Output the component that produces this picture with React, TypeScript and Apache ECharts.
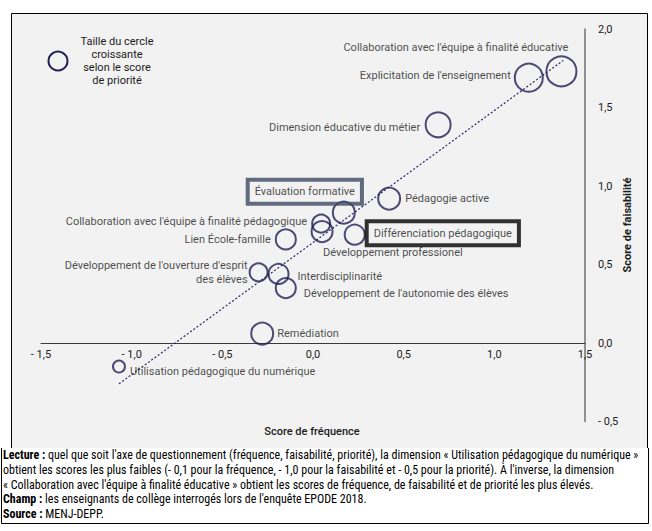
import React, { useEffect, useRef } from "react";
import * as echarts from "echarts";

// ---- Data ----
const dimensions = [
  "Collaboration avec l'équipe à finalité éducative",
  "Explicitation de l'enseignement",
  "Dimension éducative du métier",
  "Pédagogie active",
  "Évaluation formative",
  "Collaboration avec l'équipe à finalité pédagogique",
  "Développement professionel",
  "Différenciation pédagogique",
  "Lien École-famille",
  "Développement de l'ouverture d'esprit\ndes élèves",
  "Interdisciplinarité",
  "Développement de l'autonomie des élèves",
  "Remédiation",
  "Utilisation pédagogique du numérique",
];
const frequence = [1.37, 1.19, 0.69, 0.42, 0.17, 0.045, 0.05, 0.23, -0.15, -0.3, -0.19, -0.15, -0.28, -1.07];
const faisabilite = [1.73, 1.69, 1.39, 0.92, 0.83, 0.76, 0.71, 0.69, 0.66, 0.45, 0.44, 0.35, 0.06, -0.15];
const priorite = [1.0, 0.83, 0.58, 0.33, 0.33, 0.0, 0.25, 0.17, 0.17, 0.0, 0.17, 0.17, 0.33, -0.5];

const trendX = [-1.07, 1.38];
const trendY = [-0.26, 1.8];

const xTickValues = [-1.5, -1.0, -0.5, 0.0, 0.5, 1.0, 1.5];
const xTickLabels = ["- 1,5", "- 1,0", "- 0,5", "0,0", "0,5", "1,0", "1,5"];
const yTickValues = [-0.5, 0.0, 0.5, 1.0, 1.5, 2.0];
const yTickLabels = ["- 0,5", "0,0", "0,5", "1,0", "1,5", "2,0"];

const legendLines = ["Taille du cercle", "croissante", "selon le score", "de priorité"];
const footerLines = [
  "{b|Lecture :} quel que soit l'axe de questionnement (fréquence, faisabilité, priorité), la dimension « Utilisation pédagogique du numérique »",
  "obtient les scores les plus faibles (- 0,1 pour la fréquence, - 1,0 pour la faisabilité et - 0,5 pour la priorité). À l'inverse, la dimension",
  "« Collaboration avec l'équipe à finalité éducative » obtient les scores de fréquence, de faisabilité et de priorité les plus élevés.",
  "{b|Champ :} les enseignants de collège interrogés lors de l'enquête EPODE 2018.",
  "{b|Source :} MENJ-DEPP.",
];

// ---- Layout (label placement relative to bubble centre) ----
const labelLayout: { align: string; dx: number; dy: number; box?: string }[] = [
  { align: "right", dx: 7, dy: -24 },
  { align: "right", dx: -18, dy: -2 },
  { align: "right", dx: -18, dy: 3 },
  { align: "left", dx: 16, dy: 0 },
  { align: "center", dx: -39, dy: -21, box: "#3b4a60" },
  { align: "right", dx: -14, dy: -2 },
  { align: "left", dx: 1, dy: 21 },
  { align: "left", dx: 12, dy: -1.5, box: "#000000" },
  { align: "right", dx: -15, dy: 0 },
  { align: "right", dx: -11, dy: 0 },
  { align: "left", dx: 19, dy: 3 },
  { align: "left", dx: 18, dy: 5 },
  { align: "left", dx: 15, dy: 0 },
  { align: "left", dx: 11, dy: 5 },
];

const FONT = "Roboto, 'Liberation Sans', sans-serif";
const NARROW = "'Liberation Sans Narrow', 'Roboto Condensed', Roboto, sans-serif";
const INK = "#221e55";
const TXT = "#1c1c1c";

const sizeOf = (p: number) => 18 + 12 * p;

export default function App() {
  const ref = useRef<HTMLDivElement>(null);
  useEffect(() => {
    if (!ref.current) return;
    const chart = echarts.init(ref.current, undefined, { renderer: "svg" });

    const points = dimensions.map((name, i) => {
      const l = labelLayout[i];
      return {
        name,
        value: [frequence[i], faisabilite[i], priorite[i]],
        label: {
          show: true,
          position: "inside",
          align: l.align,
          verticalAlign: "middle",
          offset: [l.dx, l.dy],
          formatter: "{b}",
          color: TXT,
          fontFamily: FONT,
          fontSize: 11,
          lineHeight: 14,
          ...(l.box
            ? {
                borderColor: l.box,
                borderWidth: 2,
                padding: [5, 7, 5, 7],
                backgroundColor: "transparent",
              }
            : {}),
        },
      };
    });

    const fmt = (vals: number[], labels: string[]) => (v: number) => {
      const idx = vals.findIndex((t) => Math.abs(t - v) < 1e-6);
      return idx >= 0 ? labels[idx] : "";
    };

    const graphic: any[] = [
      {
        type: "rect",
        z: -10,
        silent: true,
        shape: { x: 11, y: 13, width: 637, height: 435 },
        style: { fill: "#f2f2f2", stroke: null },
      },
      {
        type: "polyline",
        silent: true,
        shape: { points: [[11.5, 448], [11.5, 13.5], [647.5, 13.5], [647.5, 448]] },
        style: { stroke: "#000", lineWidth: 1, fill: null },
      },
      {
        type: "polyline",
        silent: true,
        shape: { points: [[1.5, 448], [1.5, 523.5], [648.5, 523.5], [648.5, 448]] },
        style: { stroke: "#000", lineWidth: 1, fill: null },
      },
      {
        type: "circle",
        silent: true,
        shape: { cx: 58, cy: 61, r: 9.5 },
        style: { fill: "transparent", stroke: INK, lineWidth: 2 },
      },
      {
        type: "text",
        silent: true,
        x: 117,
        y: 61,
        style: {
          text: legendLines.join("\n"),
          fill: TXT,
          font: `11px ${FONT}`,
          lineHeight: 13,
          align: "center",
          verticalAlign: "middle",
        },
      },
      {
        type: "text",
        silent: true,
        x: 312,
        y: 431,
        style: {
          text: "Score de fréquence",
          fill: TXT,
          font: `500 11px ${FONT}`,
          align: "center",
          verticalAlign: "middle",
        },
      },
      {
        type: "text",
        silent: true,
        x: 627,
        y: 225,
        rotation: Math.PI / 2,
        style: {
          text: "Score de faisabilité",
          fill: TXT,
          font: `bold 11px ${FONT}`,
          align: "center",
          verticalAlign: "middle",
        },
      },
      ...footerLines.map((t, i) => ({
        type: "text",
        silent: true,
        x: 3,
        y: 455 + 14.8 * i,
        style: {
          text: t,
          fill: "#000",
          fontFamily: NARROW,
          fontSize: 12,
          align: "left",
          verticalAlign: "middle",
          rich: { b: { fontWeight: "bold", fontFamily: NARROW, fontSize: 12, fill: "#000" } },
        },
      })),
    ];

    chart.setOption({
      animation: false,
      grid: { left: 41, right: 67, top: 29, bottom: 109.5, containLabel: false },
      xAxis: {
        type: "value",
        min: -1.5,
        max: 1.5,
        interval: 0.5,
        position: "bottom",
        offset: -78.5,
        splitLine: { show: false },
        axisTick: { show: false },
        axisLine: { onZero: false, lineStyle: { color: "#3a3a3a", width: 1 } },
        axisLabel: {
          margin: 6,
          color: TXT,
          fontFamily: FONT,
          fontSize: 11,
          formatter: fmt(xTickValues, xTickLabels),
        },
      },
      yAxis: {
        type: "value",
        position: "right",
        min: -0.5,
        max: 2,
        interval: 0.5,
        splitLine: { show: false },
        axisTick: { show: false },
        axisLine: { show: true, onZero: false, lineStyle: { color: "#707070", width: 1.5 } },
        axisLabel: {
          margin: 13,
          color: TXT,
          fontFamily: FONT,
          fontSize: 11,
          align: "left",
          formatter: fmt(yTickValues, yTickLabels),
        },
      },
      graphic,
      series: [
        {
          type: "line",
          data: trendX.map((x, i) => [x, trendY[i]]),
          symbol: "none",
          lineStyle: { color: "#2b2470", width: 1.2, type: [2, 2] },
          silent: true,
          z: 1,
        },
        {
          type: "scatter",
          data: points,
          symbolSize: (v: number[]) => sizeOf(v[2]),
          itemStyle: { color: "transparent", borderColor: INK, borderWidth: 2 },
          z: 2,
        },
      ],
    });
    return () => chart.dispose();
  }, []);

  return (
    <div
      ref={ref}
      style={{ position: "fixed", left: 0, top: 0, width: 652, height: 531, background: "#fff" }}
    />
  );
}
